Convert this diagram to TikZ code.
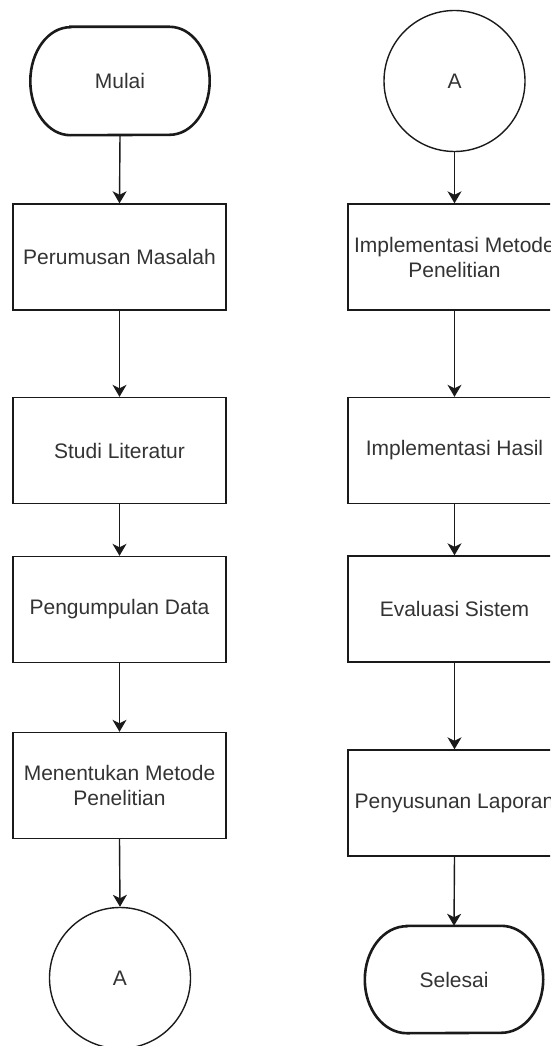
\documentclass[tikz,border=0pt]{standalone}
\usepackage{fontspec}
\setmainfont{Liberation Sans}
\usetikzlibrary{arrows.meta}
\definecolor{txt}{HTML}{333333}
\definecolor{ln}{HTML}{1A1A1A}
\begin{document}
\begin{tikzpicture}[x=1pt,y=-1pt,
  every node/.style={font=\fontsize{21}{25}\selectfont, text=txt, align=center, inner sep=0pt},
  procbox/.style={draw=ln, line width=1.4pt, minimum width=213pt, minimum height=106pt},
  connector/.style={draw=ln, line width=1.4pt, shape=circle, minimum size=141pt},
  termnode/.style={minimum width=179pt, minimum height=108pt},
  termline/.style={draw=ln, line width=2.6pt},
  flow/.style={draw=ln, line width=1.4pt, -{Stealth[length=12pt,width=14pt,inset=3.5pt]}}
]
\useasboundingbox (0,0) rectangle (550,1046);
\begin{scope}
\clip (0,0) rectangle (550,1046);

% left column
\node[termnode] (mulai) at (120,81) {Mulai};
\node[procbox] (p1) at (119.5,257) {Perumusan Masalah};
\node[procbox] (p2) at (119.5,450.5) {Studi Literatur};
\node[procbox] (p3) at (119.5,609.5) {Pengumpulan Data};
\node[procbox] (p4) at (119.5,785.5) {Menentukan Metode\\Penelitian};
\node[connector] (a1) at (120,978) {A};

% right column
\node[connector] (a2) at (454.5,81) {A};
\node[procbox] (q1) at (454.5,257) {Implementasi Metode\\Penelitian};
\node[procbox] (q2) at (454.5,450.5) {Implementasi Hasil};
\node[procbox] (q3) at (454.5,609) {Evaluasi Sistem};
\node[procbox] (q4) at (454.5,803) {Penyusunan Laporan};
\node[termnode, minimum width=178pt, minimum height=107pt] (selesai) at (454,979.5) {Selesai};

% terminator outlines
\draw[termline] ([xshift=40pt]mulai.north west) -- ([xshift=-40pt]mulai.north east)
  arc[start angle=90, end angle=-90, x radius=40pt, y radius=54pt]
  -- ([xshift=40pt]mulai.south west)
  arc[start angle=270, end angle=90, x radius=40pt, y radius=54pt] -- cycle;
\draw[termline] ([xshift=42pt]selesai.north west) -- ([xshift=-42pt]selesai.north east)
  arc[start angle=90, end angle=-90, x radius=42pt, y radius=53.5pt]
  -- ([xshift=42pt]selesai.south west)
  arc[start angle=270, end angle=90, x radius=42pt, y radius=53.5pt] -- cycle;

% connectors
\draw[flow] (mulai.south) -- (p1.north);
\draw[flow] (p1.south) -- (p2.north);
\draw[flow] (p2.south) -- (p3.north);
\draw[flow] (p3.south) -- (p4.north);
\draw[flow] (p4.south) -- (a1.north);
\draw[flow] (a2.south) -- (q1.north);
\draw[flow] (q1.south) -- (q2.north);
\draw[flow] (q2.south) -- (q3.north);
\draw[flow] (q3.south) -- (q4.north);
\draw[flow] (q4.south) -- (selesai.north);
\end{scope}
\end{tikzpicture}
\end{document}
